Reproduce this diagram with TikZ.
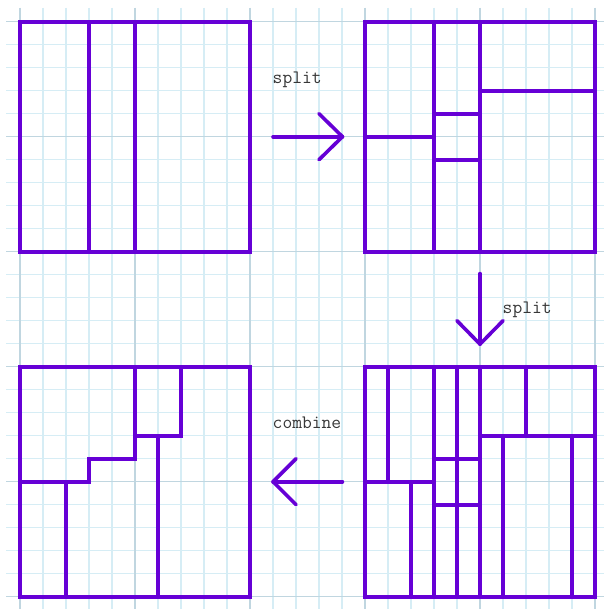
\documentclass[tikz,border=0pt]{standalone}
\definecolor{pur}{RGB}{102,0,214}
\definecolor{gminor}{RGB}{214,237,245}
\definecolor{gmajor}{RGB}{192,214,224}
\definecolor{txt}{RGB}{55,55,55}
\begin{document}
\begin{tikzpicture}[x=23pt,y=-23pt,
  box/.style={draw=pur,line width=3.6pt,line join=miter},
  arrowline/.style={draw=pur,line width=3.6pt,line join=round,line cap=round},
  gridminor/.style={draw=gminor,line width=1.2pt},
  gridmajor/.style={draw=gmajor,line width=1.2pt},
  lbl/.style={font=\ttfamily\fontsize{19}{22}\selectfont,text=txt,inner sep=0pt,anchor=base west}]
\useasboundingbox (-0.8696,-0.9435) rectangle (25.3913,25.5348);
\fill[white] (-0.8696,-0.9435) rectangle (25.3913,25.5348);
% grid
\foreach \k in {0,...,25} {
  \draw[gridminor] (\k,-0.6) -- (\k,25.5348);
  \draw[gridminor] (-0.6,\k) -- (25.3913,\k);
}
\foreach \k in {0,5,...,25} {
  \draw[gridmajor] (\k,-0.6) -- (\k,25.5348);
  \draw[gridmajor] (-0.6,\k) -- (25.3913,\k);
}
% top-left square
\begin{scope}[shift={(0,0)}]
  \draw[box] (0,0) rectangle (10,10);
  \draw[box] (3,0) -- (3,10);
  \draw[box] (5,0) -- (5,10);
\end{scope}
% top-right square
\begin{scope}[shift={(15,0)}]
  \draw[box] (0,0) rectangle (10,10);
  \draw[box] (3,0) -- (3,10);
  \draw[box] (5,0) -- (5,10);
  \draw[box] (0,5) -- (3,5);
  \draw[box] (3,4) -- (5,4);
  \draw[box] (3,6) -- (5,6);
  \draw[box] (5,3) -- (10,3);
\end{scope}
% bottom-right square
\begin{scope}[shift={(15,15)}]
  \draw[box] (0,0) rectangle (10,10);
  \draw[box] (3,0) -- (3,10);
  \draw[box] (4,0) -- (4,10);
  \draw[box] (5,0) -- (5,10);
  \draw[box] (3,4) -- (5,4);
  \draw[box] (3,6) -- (5,6);
  \draw[box] (0,5) -- (3,5);
  \draw[box] (1,0) -- (1,5);
  \draw[box] (2,5) -- (2,10);
  \draw[box] (5,3) -- (10,3);
  \draw[box] (7,0) -- (7,3);
  \draw[box] (6,3) -- (6,10);
  \draw[box] (9,3) -- (9,10);
\end{scope}
% bottom-left square
\begin{scope}[shift={(0,15)}]
  \draw[box] (0,0) rectangle (10,10);
  \draw[box] (0,5) -- (3,5) -- (3,4) -- (5,4) -- (5,0);
  \draw[box] (5,3) -- (7,3) -- (7,0);
  \draw[box] (2,5) -- (2,10);
  \draw[box] (6,3) -- (6,10);
\end{scope}
% arrows
\coordinate (r0) at (11,5);   \coordinate (r1) at (14.02,5);
\coordinate (ra) at (13,4);   \coordinate (rb) at (13,6);
\draw[arrowline] (r0) -- (r1);
\draw[arrowline] (ra) -- (r1) -- (rb);
\coordinate (d0) at (20,10.95); \coordinate (d1) at (20,14.02);
\coordinate (da) at (19,13);    \coordinate (db) at (21,13);
\draw[arrowline] (d0) -- (d1);
\draw[arrowline] (da) -- (d1) -- (db);
\coordinate (l0) at (14.02,20); \coordinate (l1) at (11,20);
\coordinate (la) at (12,19);    \coordinate (lb) at (12,21);
\draw[arrowline] (l0) -- (l1);
\draw[arrowline] (la) -- (l1) -- (lb);
% labels
\node[lbl] (s1) at (10.98,2.68) {split};
\node[lbl] (s2) at (20.98,12.68) {split};
\node[lbl] (c1) at (10.98,17.68) {combine};
\end{tikzpicture}
\end{document}
